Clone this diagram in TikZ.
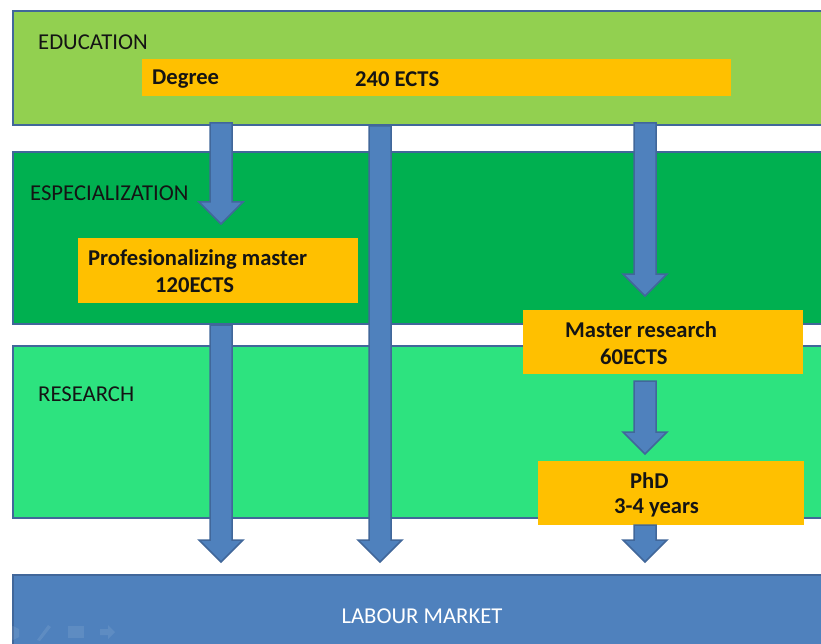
\documentclass[tikz,border=0pt]{standalone}
\usepackage{fontspec}
\setmainfont{Carlito}
\usetikzlibrary{calc}
\definecolor{edgeblue}{HTML}{41679A}
\definecolor{arrowblue}{HTML}{4F81BD}
\definecolor{edugreen}{HTML}{92D050}
\definecolor{specgreen}{HTML}{00B050}
\definecolor{resgreen}{HTML}{2DE37F}
\definecolor{boxorange}{HTML}{FFC000}
\tikzset{
  band/.style={draw=edgeblue,line width=1.8pt,inner sep=0pt,outer sep=0pt,anchor=north west,minimum width=830pt},
  orangebox/.style={fill=boxorange,inner sep=0pt,outer sep=0pt,anchor=north west},
  bandlabel/.style={anchor=west,inner sep=0pt,font=\fontsize{22.7}{26}\selectfont,text=black!92},
  boxlabel/.style={anchor=west,inner sep=0pt,font=\fontsize{22.6}{26}\selectfont\bfseries,text=black!92},
  blockarrow/.style={draw=edgeblue,fill=arrowblue,line width=1.5pt,line join=miter},
  faint/.style={fill=white,opacity=.09,draw=none}
}
% #1 centre x, #2 from node, #3 to node, #4 gap at start, #5 gap at tip
\newcommand{\blockarrow}[5]{%
  \draw[blockarrow] let \p1=(#2.south), \p2=(#3.north) in
    (#1pt-11pt,\y1+#4pt) -- (#1pt+11pt,\y1+#4pt) -- (#1pt+11pt,\y2+#5pt+22pt)
    -- (#1pt+22pt,\y2+#5pt+22pt) -- (#1pt,\y2+#5pt) -- (#1pt-22pt,\y2+#5pt+22pt)
    -- (#1pt-11pt,\y2+#5pt+22pt) -- cycle;}
\begin{document}
\begin{tikzpicture}[x=1pt,y=-1pt]
\useasboundingbox (0,0) rectangle (821,644);
\clip (0,0) rectangle (821,644);
\fill[white] (0,0) rectangle (821,644);
% bands
\node[band,fill=edugreen,minimum height=114pt] (edu) at (13,11) {};
\node[band,fill=specgreen,minimum height=172pt] (spec) at (13,152) {};
\node[band,fill=resgreen,minimum height=172pt] (res) at (13,346) {};
\node[band,fill=arrowblue,minimum height=90pt] (labour) at (13,575) {};
% orange boxes
\node[orangebox,minimum width=589pt,minimum height=37pt] (degree) at (142,59) {};
\node[orangebox,minimum width=280pt,minimum height=65pt] (prof) at (78,238) {};
\node[orangebox,minimum width=280pt,minimum height=64pt] (master) at (523,310) {};
\node[orangebox,minimum width=266pt,minimum height=64pt] (phd) at (538,461) {};
% arrows
\blockarrow{221}{edu}{prof}{2}{14}
\blockarrow{221}{prof}{labour}{-22}{13}
\blockarrow{380}{edu}{labour}{-1}{13}
\blockarrow{645}{edu}{master}{2}{14}
\blockarrow{645}{master}{phd}{-7}{7}
\blockarrow{645}{phd}{labour}{0}{13}
% band labels
\node[bandlabel] (edut) at (38,42) {EDUCATION};
\node[bandlabel] (spect) at (30,193) {ESPECIALIZATION};
\node[bandlabel] (rest) at (38,394) {RESEARCH};
\node[bandlabel,text=white,anchor=center] (labt) at (422,616) {LABOUR MARKET};
% box labels
\node[boxlabel] (degt) at (152,79) {Degree};
\node[boxlabel] (ectst) at (355,79) {240 ECTS};
\node[boxlabel] (proft) at (88,259) {Profesionalizing master};
\node[boxlabel] (profe) at (155,285) {120ECTS};
\node[boxlabel] (mastt) at (565,330) {Master research};
\node[boxlabel] (maste) at (600,357) {60ECTS};
\node[boxlabel] (phdt) at (630,481) {PhD};
\node[boxlabel] (phdy) at (614,508) {3-4 years};
% faint slide-show controls
\fill[faint] (3,632) -- (13,626) -- (19,629) -- (19,637) -- (13,640) -- cycle;
\fill[faint] (37,640) -- (48,625) -- (51,627) -- (40,641) -- cycle;
\fill[faint] (68,626) rectangle (84,638);
\fill[faint] (100,629) -- (108,629) -- (108,625) -- (115,632) -- (108,639) -- (108,635) -- (100,635) -- cycle;
\end{tikzpicture}
\end{document}
